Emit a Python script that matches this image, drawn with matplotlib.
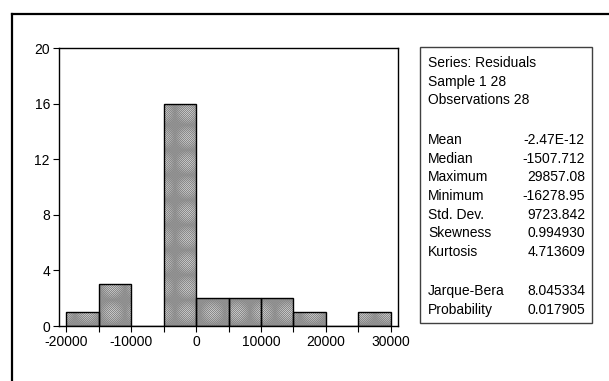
import numpy as np
import matplotlib
matplotlib.use("Agg")
from matplotlib import pyplot as plt
from matplotlib.lines import Line2D
from matplotlib.patches import Rectangle

# Histogram of residuals (bin width 5000)
bin_edges = [-20000, -15000, -10000, -5000, 0, 5000, 10000, 15000, 20000, 25000, 30000]
counts = [1, 3, 0, 16, 2, 2, 2, 1, 0, 1]

x_ticks = [-20000, -10000, 0, 10000, 20000, 30000]
y_ticks = [0, 4, 8, 12, 16, 20]

header_lines = ["Series: Residuals", "Sample 1 28", "Observations 28"]
stat_names = ["Mean", "Median", "Maximum", "Minimum", "Std. Dev.", "Skewness", "Kurtosis"]
stat_values = ["-2.47E-12", "-1507.712", "29857.08", "-16278.95", "9723.842", "0.994930", "4.713609"]
test_names = ["Jarque-Bera", "Probability"]
test_values = ["8.045334", "0.017905"]

plt.rcParams["font.family"] = ["Liberation Sans", "DejaVu Sans"]
plt.rcParams["hatch.linewidth"] = 0.5

W, H = 609, 381
fig = plt.figure(figsize=(W / 100, H / 100), dpi=100)

# outer frame (cut off at right and bottom)
fig.add_artist(Line2D([12 / W, 12 / W], [0, 1 - 13.5 / H], color="black", lw=1.6, transform=fig.transFigure))
fig.add_artist(Line2D([12 / W, 1.0], [1 - 13.5 / H, 1 - 13.5 / H], color="black", lw=1.6, transform=fig.transFigure))

ax = fig.add_axes([59 / W, 1 - 326 / H, (398 - 59) / W, (326 - 48) / H])

lefts = np.array(bin_edges[:-1])
widths = np.diff(bin_edges)
ax.bar(lefts, counts, width=widths, align="edge", color="#f4f4f4", edgecolor="#8a8a8a",
       hatch="x" * 16, linewidth=0)
ax.bar(lefts, counts, width=widths, align="edge", fill=False, edgecolor="black", linewidth=1.0)

ax.set_xlim(-21077, 31077)
ax.set_ylim(0, 20)
ax.set_xticks(x_ticks)
ax.set_xticklabels([str(v) for v in x_ticks])
ax.set_xticks(np.arange(-15000, 30000, 10000), minor=True)
ax.set_yticks(y_ticks)
ax.tick_params(axis="both", which="both", direction="out", length=4.5, width=0.8, labelsize=10, pad=2)
for s in ax.spines.values():
    s.set_linewidth(1.0)

# statistics box
bx0, bx1, by0, by1 = 420, 592, 47, 323
fig.add_artist(Rectangle((bx0 / W, 1 - by1 / H), (bx1 - bx0) / W, (by1 - by0) / H,
                         transform=fig.transFigure, fill=False, edgecolor="#404040", lw=1.0))

x_lab = 428 / W
x_val = 585 / W
step = 18.7
y = 63
for line in header_lines:
    fig.text(x_lab, 1 - y / H, line, fontsize=10, va="center", ha="left")
    y += step
y = 140
for name, val in zip(stat_names, stat_values):
    fig.text(x_lab, 1 - y / H, name, fontsize=10, va="center", ha="left")
    fig.text(x_val, 1 - y / H, val, fontsize=10, va="center", ha="right")
    y += step
y = 291
for name, val in zip(test_names, test_values):
    fig.text(x_lab, 1 - y / H, name, fontsize=10, va="center", ha="left")
    fig.text(x_val, 1 - y / H, val, fontsize=10, va="center", ha="right")
    y += step

fig.savefig("out.png", dpi=100)
